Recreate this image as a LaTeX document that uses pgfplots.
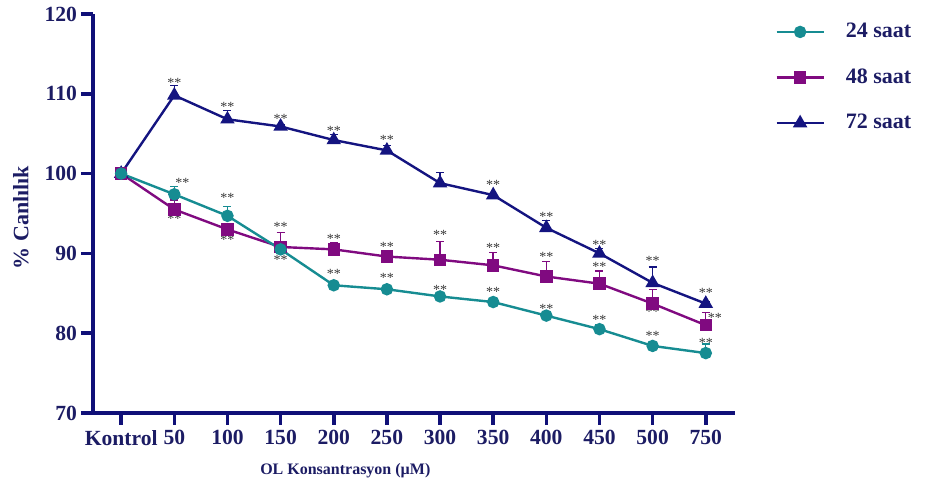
\documentclass[border=0pt]{standalone}
\usepackage{pgfplots}
\pgfplotsset{compat=1.18}
\usepackage{fontspec}
\setmainfont{Liberation Serif}

\definecolor{axnavy}{RGB}{16,16,120}
\definecolor{txtnavy}{RGB}{28,28,100}
\definecolor{c24}{RGB}{22,140,146}
\definecolor{c48}{RGB}{128,10,128}
\definecolor{c72}{RGB}{20,20,128}
\definecolor{stargray}{RGB}{55,55,55}

\newcommand{\sig}[3][center]{\node[font=\fontsize{7}{7}\selectfont, text=stargray, inner sep=0pt, anchor=#1] at (axis cs:#2,#3) {**};}

\begin{document}
\begin{tikzpicture}
\begin{axis}[
  name=ax,
  scale only axis,
  width=321pt, height=199.5pt,
  xmin=-0.53, xmax=11.55,
  ymin=70, ymax=120,
  clip=false,
  axis x line*=bottom, axis y line*=left,
  axis line style={axnavy, line width=1.9pt, -},
  xtick={0,...,11},
  xticklabels={Kontrol,50,100,150,200,250,300,350,400,450,500,750},
  ytick={70,80,...,120},
  tick align=outside,
  major tick length=6pt,
  every tick/.style={axnavy, line width=1.8pt},
  /pgf/number format/assume math mode=true,
  ticklabel style={font=\bfseries\fontsize{10.8}{12}\selectfont, text=txtnavy},
  xticklabel style={yshift=0.8pt},
  yticklabel style={xshift=1.5pt},
  ylabel={\% Canlılık},
  ylabel style={at={(rel axis cs:0,0.49)}, yshift=36pt, anchor=center,
    font=\bfseries\fontsize{11}{12}\selectfont, text=txtnavy},
  xlabel={OL Konsantrasyon (µM)},
  xlabel style={at={(rel axis cs:0.393,0)}, yshift=-29pt, anchor=center,
    font=\bfseries\fontsize{8}{9}\selectfont, text=txtnavy},
  legend image code/.code={
    \draw[mark repeat=2, mark phase=2, #1]
      plot coordinates {(0pt,0pt) (11.75pt,0pt) (23.5pt,0pt)};
  },
  reverse legend,
  legend style={at={(rel axis cs:1.053,0.998)}, anchor=north west,
    draw=none, fill=none, row sep=10pt,
    /tikz/every odd column/.append style={column sep=8.5pt},
    font=\bfseries\fontsize{11}{12}\selectfont, text=txtnavy},
  legend cell align=left,
  every axis plot/.append style={line width=1.2pt},
  error bars/y dir=plus,
  error bars/y explicit,
]

% 72 saat
\addplot[c72, mark=triangle*, mark size=3pt,
  error bars/error bar style={c72, line width=0.7pt},
  error bars/error mark options={c72, rotate=90, mark size=2pt, line width=0.7pt}]
  coordinates {
  (0,100) +- (0,0)
  (1,109.8) +- (0,1.2)
  (2,106.8) +- (0,1.1)
  (3,105.9) +- (0,0.2)
  (4,104.2) +- (0,0.7)
  (5,102.9) +- (0,0.6)
  (6,98.8) +- (0,1.3)
  (7,97.3) +- (0,0.2)
  (8,93.2) +- (0,0.9)
  (9,90.0) +- (0,0.6)
  (10,86.3) +- (0,2.0)
  (11,83.7) +- (0,0.2)
  };
\addlegendentry{72 saat}

% 48 saat
\addplot[c48, mark=square*, mark size=2.5pt,
  error bars/error bar style={c48, line width=0.7pt},
  error bars/error mark options={c48, rotate=90, mark size=2pt, line width=0.7pt}]
  coordinates {
  (0,100) +- (0,0)
  (1,95.5) +- (0,1.2)
  (2,93.0) +- (0,0.6)
  (3,90.8) +- (0,1.8)
  (4,90.5) +- (0,0.8)
  (5,89.6) +- (0,0.3)
  (6,89.2) +- (0,2.3)
  (7,88.5) +- (0,1.6)
  (8,87.1) +- (0,1.9)
  (9,86.2) +- (0,1.6)
  (10,83.7) +- (0,1.8)
  (11,81.0) +- (0,1.6)
  };
\addlegendentry{48 saat}

% 24 saat
\addplot[c24, mark=*, mark size=2.5pt,
  error bars/error bar style={c24, line width=0.7pt},
  error bars/error mark options={c24, rotate=90, mark size=2pt, line width=0.7pt}]
  coordinates {
  (0,100) +- (0,0)
  (1,97.4) +- (0,0.95)
  (2,94.7) +- (0,1.15)
  (3,90.5) +- (0,0.3)
  (4,86.0) +- (0,0.3)
  (5,85.5) +- (0,0.2)
  (6,84.6) +- (0,0.2)
  (7,83.9) +- (0,0.2)
  (8,82.2) +- (0,0.3)
  (9,80.5) +- (0,0.55)
  (10,78.4) +- (0,0.3)
  (11,77.5) +- (0,1.15)
  };
\addlegendentry{24 saat}

% significance marks, 72 saat
\sig{1}{111.3}\sig{2}{108.4}\sig{3}{106.9}\sig{4}{105.3}\sig{5}{104.2}
\sig{7}{98.6}\sig{8}{94.6}\sig{9}{91.1}\sig{10}{89.0}\sig{11}{85.1}
% significance marks, 48 saat
\sig{1}{94.3}\sig{2}{91.7}\sig{3}{93.3}\sig{4}{91.8}\sig{5}{90.8}
\sig{6}{92.3}\sig{7}{90.7}\sig{8}{89.5}\sig{9}{88.3}\sig{10}{82.6}
\sig{11.17}{81.9}
% significance marks, 24 saat
\sig{1.15}{98.8}\sig{2}{96.9}\sig{3}{89.2}\sig{4}{87.4}\sig{5}{86.9}
\sig{6}{85.4}\sig{7}{85.2}\sig{8}{83.1}\sig{9}{81.7}\sig{10}{79.6}
\sig{11}{78.8}
\end{axis}
% short stub of the baseline to the left of the value axis
\draw[axnavy, line width=1.9pt] (ax.south west) -- ++(-5.5pt,0pt);
\path[use as bounding box]
  ([shift={(-46.5pt,-38.5pt)}]ax.south west)
  rectangle ([shift={(416pt,205pt)}]ax.south west);
\end{tikzpicture}
\end{document}
